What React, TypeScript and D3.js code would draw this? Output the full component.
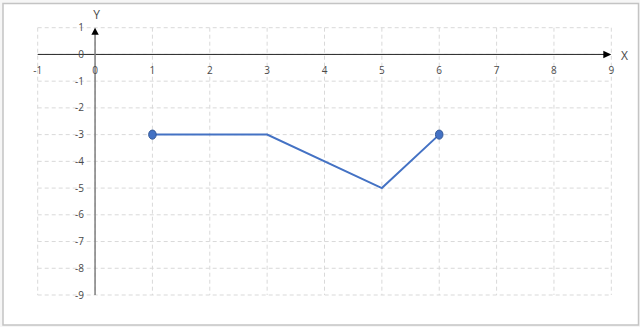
import React from "react";
import * as d3 from "d3";

// Series: x/y coordinates of the polyline
const xValues = [1, 3, 5, 6];
const yValues = [-3, -3, -5, -3];
// Indices of points that carry a marker
const markerIdx = [0, 3];

const xTicks = [-1, 0, 1, 2, 3, 4, 5, 6, 7, 8, 9];
const yTicks = [1, 0, -1, -2, -3, -4, -5, -6, -7, -8, -9];

const W = 640;
const H = 327;

export default function App() {
  const x = d3.scaleLinear().domain([-1, 9]).range([37.7, 611.3]);
  const y = d3.scaleLinear().domain([1, -9]).range([27.7, 295]);

  const pts = xValues.map((v, i) => [x(v), y(yValues[i])] as [number, number]);
  const line = d3.line()(pts) || "";

  const font = "'Open Sans', 'Noto Sans', sans-serif";
  const grid = "#d9d9d9";
  const labelColor = "#4a4a4a";

  const x0 = x(0);
  const y0 = y(0);
  const xEnd = x(9);
  const yTop = y(1);

  return (
    <svg
      width={W}
      height={H}
      style={{ position: "absolute", left: 0, top: 0, background: "#fff" }}
    >
      <rect x={0} y={0} width={W} height={H} fill="#f6f6f6" />
      <rect x={3} y={3.5} width={635.5} height={321.5} fill="#fff" stroke="#c4c4c4" strokeWidth={1.5} />

      {/* gridlines */}
      {xTicks.map((t) => (
        <line key={"gx" + t} x1={x(t)} x2={x(t)} y1={y(1)} y2={y(-9)}
          stroke={grid} strokeWidth={1} strokeDasharray="4 3" />
      ))}
      {yTicks.map((t) => (
        <line key={"gy" + t} x1={x(-1)} x2={x(9)} y1={y(t)} y2={y(t)}
          stroke={grid} strokeWidth={1} strokeDasharray="4 3" />
      ))}

      {/* x axis with arrow */}
      <line x1={x(-1)} x2={xEnd - 7} y1={y0} y2={y0} stroke="#262626" strokeWidth={1} />
      <path d={`M${xEnd},${y0} L${xEnd - 8},${y0 - 3.7} L${xEnd - 8},${y0 + 3.7} Z`} fill="#000" />

      {/* y axis with arrow */}
      <line x1={x0} x2={x0} y1={y(-9)} y2={yTop + 6} stroke="#7f7f7f" strokeWidth={1.5} />
      <path d={`M${x0},${yTop} L${x0 - 3.7},${yTop + 7} L${x0 + 3.7},${yTop + 7} Z`} fill="#000" />

      {/* tick labels */}
      {xTicks.map((t) => (
        <text key={"tx" + t} x={x(t)} y={70} textAnchor="middle" dominantBaseline="central"
          fontFamily={font} fontSize={10} fill={labelColor}>{t}</text>
      ))}
      {yTicks.map((t) => (
        <text key={"ty" + t} x={84} y={y(t) - 0.5} textAnchor="end" dominantBaseline="central"
          fontFamily={font} fontSize={10} fill={labelColor}>{t}</text>
      ))}

      <text x={96.5} y={14} textAnchor="middle" dominantBaseline="central"
        fontFamily={font} fontSize={12} fill={labelColor}>Y</text>
      <text x={624.5} y={55.5} textAnchor="middle" dominantBaseline="central"
        fontFamily={font} fontSize={12} fill={labelColor}>X</text>

      {/* series */}
      <path d={line} fill="none" stroke="#4472c4" strokeWidth={2} strokeLinejoin="miter" />
      {markerIdx.map((i) => (
        <ellipse key={"m" + i} cx={pts[i][0]} cy={pts[i][1]} rx={3.8} ry={4.6}
          fill="#4472c4" stroke="#2f528f" strokeWidth={0.9} />
      ))}
    </svg>
  );
}
